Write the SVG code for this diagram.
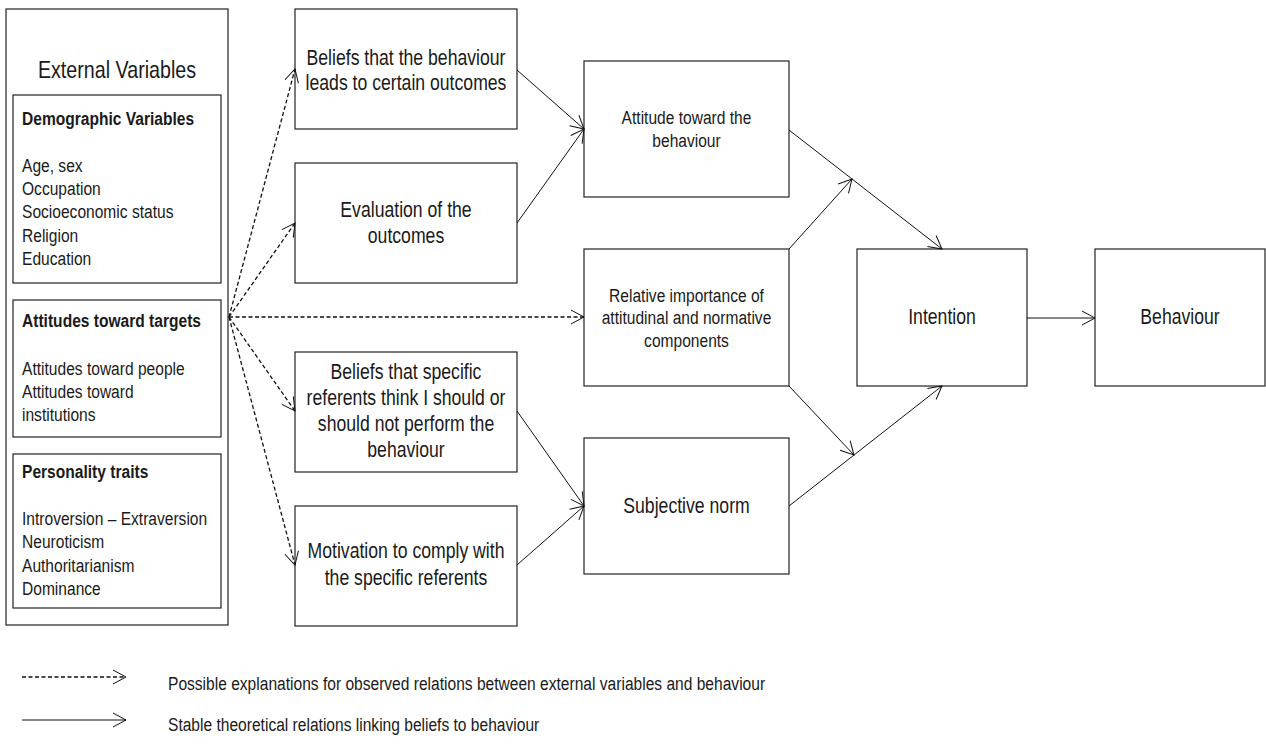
<svg xmlns="http://www.w3.org/2000/svg" width="1266" height="746" viewBox="0 0 1266 746">
<style>
.box{fill:#fff;stroke:#222;stroke-width:1.2}
text{font-family:"Liberation Sans",Arial,sans-serif;fill:#1a1a1a}
.c{text-anchor:middle}
.b{font-weight:bold}
.f19{font-size:19px}
.f21{font-size:21.5px}
.s{fill:none;stroke:#111;stroke-width:1}
.d{stroke-dasharray:4,2.5;stroke-width:1.3}
</style>
<defs>
<marker id="ah" markerUnits="userSpaceOnUse" markerWidth="16" markerHeight="16" viewBox="0 0 16 16" refX="14" refY="8" orient="auto">
<path d="M1,1 L14,8 L1,15" fill="none" stroke="#111" stroke-width="1"/>
</marker>
</defs>
<rect width="1266" height="746" fill="#fff"/>

<g id="external-variables">
<rect class="box" x="6" y="9" width="222" height="616"/>
<g transform="matrix(0.82 0 0 1 117 0)"><text class="c" x="0" y="78" font-size="24">External Variables</text></g>
</g>
<g id="demographic">
<rect class="box" x="13" y="95" width="208" height="188"/>
<g transform="matrix(0.82 0 0 1 22 0)">
<text class="b f19" x="0" y="125">Demographic Variables</text>
<text class="f19" x="0" y="172">Age, sex</text>
<text class="f19" x="0" y="195">Occupation</text>
<text class="f19" x="0" y="218">Socioeconomic status</text>
<text class="f19" x="0" y="242">Religion</text>
<text class="f19" x="0" y="265">Education</text>
</g>
</g>
<g id="attitudes-targets">
<rect class="box" x="13" y="300" width="208" height="137"/>
<g transform="matrix(0.82 0 0 1 22 0)">
<text class="b f19" x="0" y="327">Attitudes toward targets</text>
<text class="f19" x="0" y="375">Attitudes toward people</text>
<text class="f19" x="0" y="398">Attitudes toward</text>
<text class="f19" x="0" y="421">institutions</text>
</g>
</g>
<g id="personality">
<rect class="box" x="13" y="454" width="208" height="154"/>
<g transform="matrix(0.82 0 0 1 22 0)">
<text class="b f19" x="0" y="478">Personality traits</text>
<text class="f19" x="0" y="525">Introversion – Extraversion</text>
<text class="f19" x="0" y="548">Neuroticism</text>
<text class="f19" x="0" y="572">Authoritarianism</text>
<text class="f19" x="0" y="595">Dominance</text>
</g>
</g>

<g id="beliefs-outcomes">
<rect class="box" x="295" y="9" width="222" height="120"/>
<g transform="matrix(0.82 0 0 1 406 0)">
<text class="c f21" x="0" y="65">Beliefs that the behaviour</text>
<text class="c f21" x="0" y="90">leads to certain outcomes</text>
</g>
</g>
<g id="evaluation">
<rect class="box" x="295" y="163" width="222" height="120"/>
<g transform="matrix(0.82 0 0 1 406 0)">
<text class="c f21" x="0" y="217">Evaluation of the</text>
<text class="c f21" x="0" y="243">outcomes</text>
</g>
</g>
<g id="normative-beliefs">
<rect class="box" x="295" y="352" width="222" height="120"/>
<g transform="matrix(0.82 0 0 1 406 0)">
<text class="c f21" x="0" y="379">Beliefs that specific</text>
<text class="c f21" x="0" y="405">referents think I should or</text>
<text class="c f21" x="0" y="431">should not perform the</text>
<text class="c f21" x="0" y="457">behaviour</text>
</g>
</g>
<g id="motivation">
<rect class="box" x="295" y="506" width="222" height="120"/>
<g transform="matrix(0.82 0 0 1 406 0)">
<text class="c f21" x="0" y="558">Motivation to comply with</text>
<text class="c f21" x="0" y="585">the specific referents</text>
</g>
</g>

<g id="attitude">
<rect class="box" x="584" y="61" width="205" height="136"/>
<g transform="matrix(0.82 0 0 1 686.5 0)">
<text class="c f19" x="0" y="124">Attitude toward the</text>
<text class="c f19" x="0" y="147">behaviour</text>
</g>
</g>
<g id="relative-importance">
<rect class="box" x="584" y="249" width="205" height="137"/>
<g transform="matrix(0.82 0 0 1 686.5 0)">
<text class="c f19" x="0" y="302">Relative importance of</text>
<text class="c f19" x="0" y="324">attitudinal and normative</text>
<text class="c f19" x="0" y="347">components</text>
</g>
</g>
<g id="subjective-norm">
<rect class="box" x="584" y="438" width="205" height="136"/>
<g transform="matrix(0.82 0 0 1 686.5 0)"><text class="c f21" x="0" y="513">Subjective norm</text></g>
</g>
<g id="intention">
<rect class="box" x="857" y="249" width="170" height="137"/>
<g transform="matrix(0.82 0 0 1 942 0)"><text class="c f21" x="0" y="324">Intention</text></g>
</g>
<g id="behaviour">
<rect class="box" x="1095" y="249" width="170" height="137"/>
<g transform="matrix(0.82 0 0 1 1180 0)"><text class="c f21" x="0" y="324">Behaviour</text></g>
</g>

<g id="connectors">
<path class="s d" d="M229,317 L295,69" marker-end="url(#ah)"/>
<path class="s d" d="M229,317 L295,223" marker-end="url(#ah)"/>
<path class="s d" d="M229,317 L584,317" marker-end="url(#ah)"/>
<path class="s d" d="M229,317 L295,411" marker-end="url(#ah)"/>
<path class="s d" d="M229,317 L295,565" marker-end="url(#ah)"/>
<path class="s" d="M517,70 L584,129" marker-end="url(#ah)"/>
<path class="s" d="M517,223 L584,129" marker-end="url(#ah)"/>
<path class="s" d="M517,411 L584,506" marker-end="url(#ah)"/>
<path class="s" d="M517,565 L584,506" marker-end="url(#ah)"/>
<path class="s" d="M789,130 L942,249" marker-end="url(#ah)"/>
<path class="s" d="M789,249 L852,179" marker-end="url(#ah)"/>
<path class="s" d="M789,386 L854,455" marker-end="url(#ah)"/>
<path class="s" d="M789,506 L942,386" marker-end="url(#ah)"/>
<path class="s" d="M1027,318 L1095,318" marker-end="url(#ah)"/>
</g>

<g id="legend">
<path class="s d" d="M22,677 L126,677" marker-end="url(#ah)"/>
<path class="s" d="M22,720 L126,720" marker-end="url(#ah)"/>
<g transform="matrix(0.82 0 0 1 168 0)">
<text class="f19" x="0" y="690">Possible explanations for observed relations between external variables and behaviour</text>
<text class="f19" x="0" y="731">Stable theoretical relations linking beliefs to behaviour</text>
</g>
</g>
</svg>
